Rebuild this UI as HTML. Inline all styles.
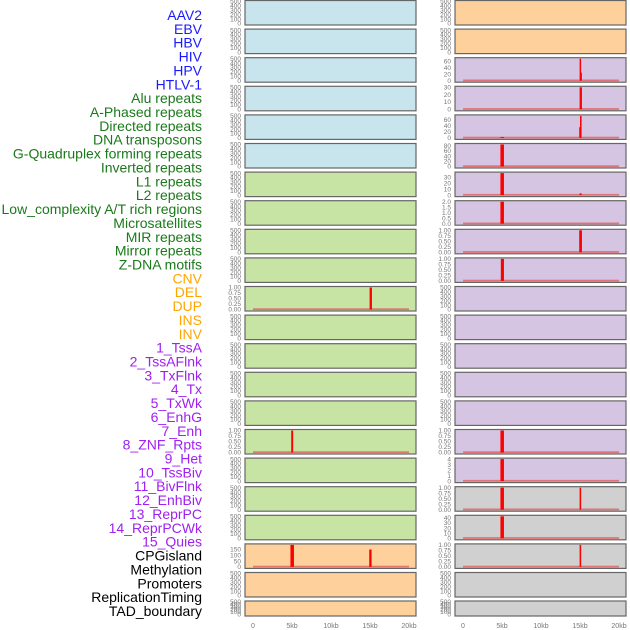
<!DOCTYPE html>
<html><head><meta charset="utf-8"><style>
body{margin:0;background:#fff;width:630px;height:630px;overflow:hidden}
svg{display:block;font-family:"Liberation Sans",sans-serif}
</style></head><body>
<svg id="chart" width="630" height="630" viewBox="0 0 630 630"></svg>
<script>
const labels = ["AAV2","EBV","HBV","HIV","HPV","HTLV-1","Alu repeats","A-Phased repeats","Directed repeats","DNA transposons","G-Quadruplex forming repeats","Inverted repeats","L1 repeats","L2 repeats","Low_complexity A/T rich regions","Microsatellites","MIR repeats","Mirror repeats","Z-DNA motifs","CNV","DEL","DUP","INS","INV","1_TssA","2_TssAFlnk","3_TxFlnk","4_Tx","5_TxWk","6_EnhG","7_Enh","8_ZNF_Rpts","9_Het","10_TssBiv","11_BivFlnk","12_EnhBiv","13_ReprPC","14_ReprPCWk","15_Quies","CPGisland","Methylation","Promoters","ReplicationTiming","TAD_boundary"];
const labelGroups = [6,13,5,15,5];
const groupColors = ["#1a1aff","#1a7a1a","#ffa500","#a020f0","#000000"];
const leftFills = ["#c8e4ec","#c8e4ec","#c8e4ec","#c8e4ec","#c8e4ec","#c8e4ec","#c8e4a4","#c8e4a4","#c8e4a4","#c8e4a4","#c8e4a4","#c8e4a4","#c8e4a4","#c8e4a4","#c8e4a4","#c8e4a4","#c8e4a4","#c8e4a4","#c8e4a4","#fdd09c","#fdd09c","#fdd09c"];
const rightFills = ["#fdd09c","#fdd09c","#d5c5e2","#d5c5e2","#d5c5e2","#d5c5e2","#d5c5e2","#d5c5e2","#d5c5e2","#d5c5e2","#d5c5e2","#d5c5e2","#d5c5e2","#d5c5e2","#d5c5e2","#d5c5e2","#d5c5e2","#d0d0d0","#d0d0d0","#d0d0d0","#d0d0d0","#d0d0d0"];
const emptyTicks = [0,100,200,300,400,500];
const leftTicks = {10:["0.00","0.25","0.50","0.75","1.00"],15:["0.00","0.25","0.50","0.75","1.00"],19:["0","50","100","150"]};
const leftMax = {10:1,15:1,19:190};
const leftBars = [[10,14950,15250,1],[15,4900,5150,1],[19,4800,5250,190],[19,14900,15200,150]];
const rightTicks = {2:["0","20","40","60"],3:["0","10","20","30"],4:["0","20","40","60"],5:["0","20","40","60","80"],6:["0","10","20","30"],7:["0.0","0.5","1.0","1.5","2.0"],8:["0.00","0.25","0.50","0.75","1.00"],9:["0.00","0.25","0.50","0.75","1.00"],15:["0.00","0.25","0.50","0.75","1.00"],16:["0","1","2","3","4"],17:["0.00","0.25","0.50","0.75","1.00"],18:["0","10","20","30","40"],19:["0.00","0.25","0.50","0.75","1.00"]};
const rightMax = {2:68,3:30,4:72,5:85,6:37,7:2,8:1,9:1,15:1,16:4,17:1,18:43,19:1};
const rightBars = [[2,14950,15100,68],[2,15050,15200,25],[3,14950,15250,30],[4,15000,15200,72],[4,14900,15100,35],[4,4800,5250,3],[5,4800,5250,85],[6,4800,5250,37],[6,14950,15200,3],[7,4800,5250,2],[8,14900,15250,1],[9,4850,5250,1],[15,4800,5250,1],[16,4800,5250,4],[17,4800,5250,1],[17,14950,15150,1],[18,4800,5250,43],[19,14950,15150,1]];
const xTicks = [0,5000,10000,15000,20000];
const xTickLabels = ["0","5kb","10kb","15kb","20kb"];

const NS="http://www.w3.org/2000/svg";
const svg=document.getElementById('chart');
function mk(tag,attrs,parent){const e=document.createElementNS(NS,tag);for(const k in attrs)e.setAttribute(k,attrs[k]);(parent||svg).appendChild(e);return e;}
function rowTop(i){return i<21?0.5+28.6*i:601;}
function rowH(i){return i<21?24.5:15;}

let li=0;
labelGroups.forEach((n,g)=>{for(let k=0;k<n;k++){const t=mk('text',{x:202,y:20+13.86*li,'text-anchor':'end','font-size':'14',fill:groupColors[g]});t.textContent=labels[li];


li++;}});

function column(px,fills,ticks,maxes,bars,name){
  const x0=px+8, x1=px+164;
  const xs=v=>x0+(v/20000)*(x1-x0);
  fills.forEach((f,i)=>{
    const top=rowTop(i),h=rowH(i);
    const g=mk('g',{});
    
    
    mk('rect',{x:px,y:top,width:171,height:h,fill:f,stroke:'#666',"stroke-width":1.2},g);
    const y0=top+h-1.5, y1=top+1;
    const tk=ticks[i]||emptyTicks.map(String);
    const mx=maxes[i]||500;
    tk.forEach(s=>{const v=parseFloat(s);const ty=y0-(v/mx)*(y0-y1);
      const t=mk('text',{x:px-4,y:ty+2.2,'text-anchor':'end','font-size':'6.5',fill:'#777'},g);t.textContent=s;
      
      });
    if(ticks[i]){const bl=mk('rect',{x:xs(0),y:y0-1.2,width:xs(20000)-xs(0),height:1.8,fill:'#e06060',opacity:0.8},g);
      
      }
  });
  bars.forEach(b=>{const i=b[0],top=rowTop(i),h=rowH(i);const y0=top+h-1.5,y1=top+1;const mx=maxes[i];
    const bx=xs(b[1]),bw=Math.max(1.5,xs(b[2])-xs(b[1]));const by=y0-(b[3]/mx)*(y0-y1);
    const r=mk('rect',{x:bx,y:Math.max(y1,by),width:bw,height:y0-Math.max(y1,by),fill:'#ff0000'});
    
    });
  xTicks.forEach((v,k)=>{const t=mk('text',{x:xs(v),y:628,'text-anchor':'middle','font-size':'7',fill:'#777'});t.textContent=xTickLabels[k];
    
    });
}
column(245,leftFills,leftTicks,leftMax,leftBars,'left');
column(455,rightFills,rightTicks,rightMax,rightBars,'right');
</script>
</body></html>
